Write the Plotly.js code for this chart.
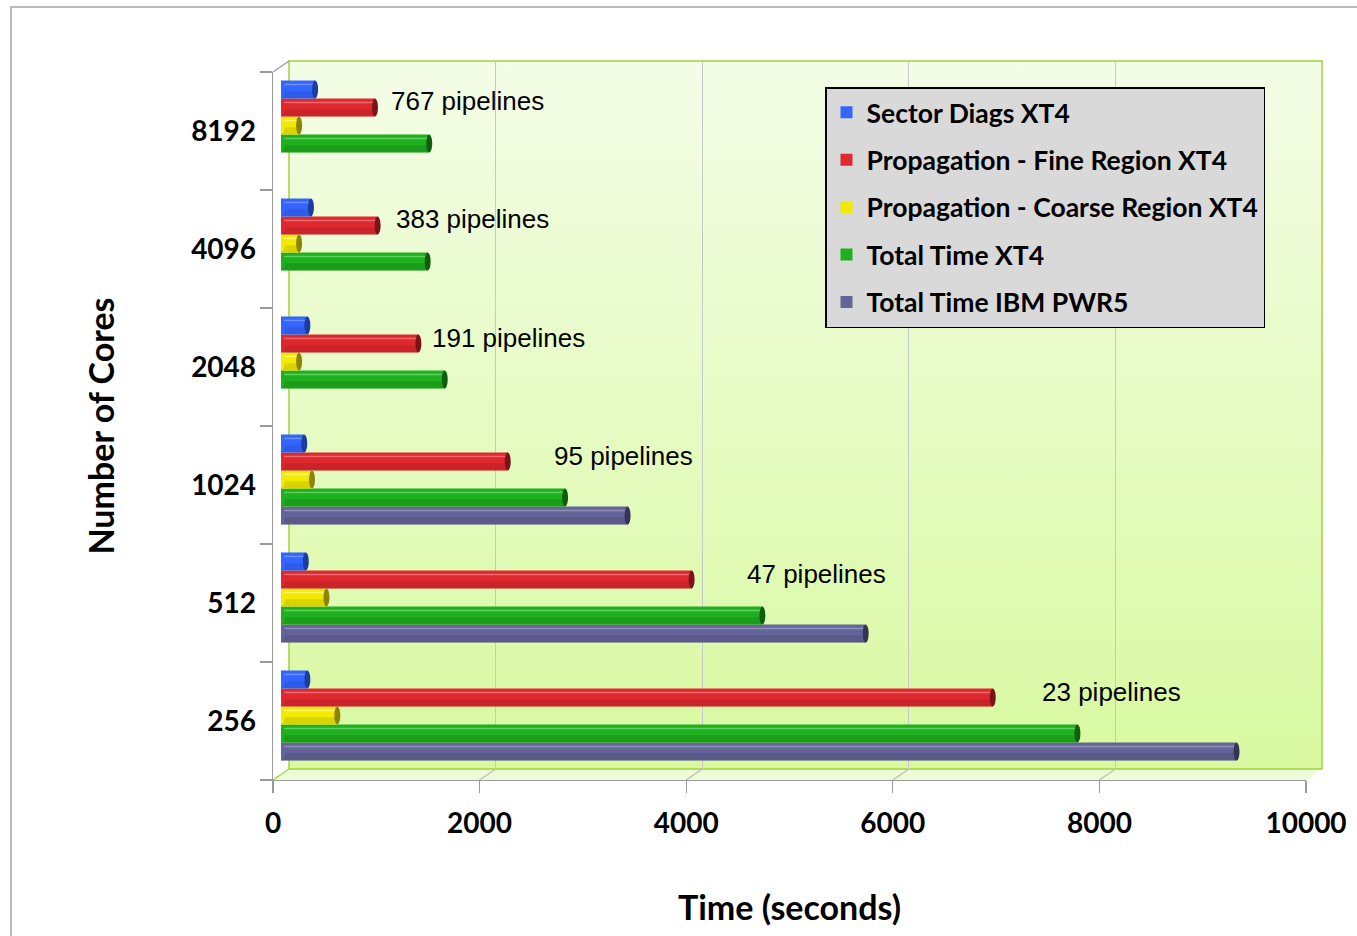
<!DOCTYPE html>
<html>
<head>
<meta charset="utf-8">
<script src="https://cdn.plot.ly/plotly-3.0.1.min.js"></script>
<style>
  html, body { margin: 0; padding: 0; background: #ffffff; }
  #chart { width: 1357px; height: 936px; }
</style>
</head>
<body>
<div id="chart"></div>
<script>
// ---- data -------------------------------------------------------------
const cores = ['256', '512', '1024', '2048', '4096', '8192'];

const sectorDiagsXT4   = [255, 240, 225, 255, 290, 330];
const fineRegionXT4    = [6890, 3975, 2195, 1330, 935, 910];
const coarseRegionXT4  = [545, 440, 300, 175, 175, 175];
const totalTimeXT4     = [7710, 4660, 2750, 1585, 1420, 1435];
const totalTimePWR5    = [9250, 5660, 3355, null, null, null];

const pipelines        = [23, 47, 95, 191, 383, 767];

const seriesNames = [
  'Sector Diags XT4',
  'Propagation - Fine Region XT4',
  'Propagation - Coarse Region XT4',
  'Total Time XT4',
  'Total Time IBM PWR5'
];
const seriesValues = [sectorDiagsXT4, fineRegionXT4, coarseRegionXT4, totalTimeXT4, totalTimePWR5];

// ---- styling ------------------------------------------------------------
const seriesColors = ['#3366ff', '#e0282f', '#f2ea00', '#1eb01e', '#646498'];
const capColors    = ['#1d3d9e', '#7a1418', '#8a8400', '#0f5e0f', '#34345a'];
const lightColors  = ['#7a9cff', '#f07a80', '#fffa8a', '#6fd86f', '#9a9ac4'];

const W = 1357, H = 936;
// front plane of the 3-D box (pixels) and depth offset of its back wall
const FX0 = 273, FX1 = 1306, FY0 = 72, FY1 = 780;
const DX = 16, DY = 11;
const PL = FX0, PR = FX1 + DX, PT = FY0 - DY, PB = FY1;
const PW = PR - PL, PH = PB - PT;
const px = x => (x - PL) / PW;
const py = y => (PB - y) / PH;

const X_MAX = 10000;
const BARGAP = 0.237;
const barW = (1 - BARGAP) / seriesNames.length;

const FONT = 'Lato, "Open Sans", sans-serif';
const labelFont = { family: FONT, size: 28, color: '#000000', weight: 'bold' };
const titleFont = { family: FONT, size: 34, color: '#000000', weight: 'bold' };

// ---- traces -------------------------------------------------------------
// drawn bottom-to-top inside each group, so the last series goes first
const traces = [];
for (let i = seriesNames.length - 1; i >= 0; i--) {
  traces.push({
    type: 'bar',
    orientation: 'h',
    name: seriesNames[i],
    y: cores,
    x: seriesValues[i],
    xaxis: 'x3',
    yaxis: 'y3',
    legendgroup: 'g' + i,
    legendrank: i + 1,
    marker: { color: seriesColors[i], line: { width: 0 } },
    hoverinfo: 'x+name'
  });
}
// empty traces so the wall and front-axis subplots exist
traces.push({
  type: 'scatter', mode: 'markers', x: [null], y: [null],
  xaxis: 'x', yaxis: 'y', showlegend: false, hoverinfo: 'skip'
});
traces.push({
  type: 'scatter', mode: 'markers', x: cores.map(() => null), y: cores,
  xaxis: 'x2', yaxis: 'y2', showlegend: false, hoverinfo: 'skip'
});

// ---- cylinder shading, end caps -----------------------------------------
const shapes = [];
seriesValues.forEach((vals, i) => {
  const slot = (seriesNames.length - 1 - i);              // 0 = bottom of group
  const centerOff = (slot - (seriesNames.length - 1) / 2) * barW;
  vals.forEach((v, c) => {
    if (v === null) return;
    const yc = c + centerOff;
    // darker lower half of the cylinder
    shapes.push({
      type: 'rect', xref: 'x3', yref: 'y3', layer: 'above',
      x0: 0, x1: v, y0: yc - barW / 2, y1: yc - barW * 0.1,
      fillcolor: capColors[i], opacity: 0.22, line: { width: 0 }
    });
    // highlight streak near the top
    shapes.push({
      type: 'line', xref: 'x3', yref: 'y3', layer: 'above',
      x0: 0, x1: v, y0: yc + barW * 0.28, y1: yc + barW * 0.28,
      line: { color: lightColors[i], width: 1.5 }, opacity: 0.8
    });
    // rounded start
    shapes.push({
      type: 'circle', xref: 'x3', yref: 'y3', layer: 'above',
      xsizemode: 'pixel', xanchor: 0, x0: -4, x1: 4,
      y0: yc - barW / 2, y1: yc + barW / 2,
      fillcolor: seriesColors[i], line: { width: 0 }
    });
    // dark end cap
    shapes.push({
      type: 'circle', xref: 'x3', yref: 'y3', layer: 'above',
      xsizemode: 'pixel', xanchor: v, x0: -3, x1: 3,
      y0: yc - barW / 2, y1: yc + barW / 2,
      fillcolor: capColors[i], line: { width: 0 }
    });
  });
});

// ---- box: outer frame, floor, wall edges --------------------------------
shapes.push({
  type: 'rect', xref: 'paper', yref: 'paper', layer: 'below',
  x0: px(11), x1: px(W + 40), y0: py(7), y1: py(H + 40),
  line: { color: '#a6a6a6', width: 1.5 }, fillcolor: 'rgba(0,0,0,0)'
});
shapes.push({
  type: 'path', xref: 'paper', yref: 'paper', layer: 'below',
  path: `M${px(FX0)},${py(FY1)} L${px(FX1)},${py(FY1)} L${px(FX1 + DX)},${py(FY1 - DY)} L${px(FX0 + DX)},${py(FY1 - DY)} Z`,
  fillcolor: '#eefbd8', line: { width: 0 }
});
shapes.push({
  type: 'rect', xref: 'x domain', yref: 'y domain', layer: 'below',
  x0: 0, x1: 1, y0: 0, y1: 1,
  line: { color: '#a3d13c', width: 1.5 }, fillcolor: 'rgba(0,0,0,0)'
});
// floor edges running back from each front tick
for (let t = 0; t <= X_MAX; t += 2000) {
  const edge = (t === 0 || t === X_MAX);
  shapes.push({
    type: 'line', xref: 'x2', yref: 'y2 domain', layer: 'below',
    xsizemode: 'pixel', xanchor: t, x0: 0, x1: DX,
    ysizemode: 'pixel', yanchor: 0, y0: 0, y1: DY,
    line: { color: edge ? '#a3d13c' : '#bdbdbd', width: 1.3 }
  });
}
// top corner of the side wall
shapes.push({
  type: 'line', xref: 'paper', yref: 'paper', layer: 'below',
  x0: px(FX0), y0: py(FY0), x1: px(FX0 + DX), y1: py(FY0 - DY),
  line: { color: '#9a9a9a', width: 1.3 }
});

// ---- pipeline labels ----------------------------------------------------
const labelX = [7348, 4492, 2623, 1442, 1094, 1045];
const annotations = pipelines.map((p, c) => ({
  xref: 'x3', yref: 'y3', x: labelX[c], y: c,
  yshift: 24, xanchor: 'left', yanchor: 'middle',
  text: p + ' pipelines', showarrow: false,
  font: { family: '"Liberation Sans", Arial, sans-serif', size: 26, color: '#000000' }
}));

// back wall gradient
const wallSvg = '<svg xmlns="http://www.w3.org/2000/svg" width="100" height="100" preserveAspectRatio="none">' +
  '<defs><linearGradient id="g" x1="0" y1="0" x2="0" y2="1">' +
  '<stop offset="0" stop-color="#f4fde7"/><stop offset="1" stop-color="#d8f9a0"/>' +
  '</linearGradient></defs><rect width="100" height="100" fill="url(#g)"/></svg>';

const layout = {
  width: W, height: H, autosize: false,
  margin: { l: PL, r: W - PR, t: PT, b: H - PB, pad: 0 },
  paper_bgcolor: '#ffffff',
  plot_bgcolor: 'rgba(0,0,0,0)',
  barmode: 'group', bargap: BARGAP, bargroupgap: 0,
  showlegend: true,
  legend: {
    x: px(825), y: py(87), xanchor: 'left', yanchor: 'top',
    bgcolor: '#d9d9d9', bordercolor: '#000000', borderwidth: 1.5,
    traceorder: 'grouped', tracegroupgap: 10,
    font: { family: FONT, size: 26.5, color: '#000000', weight: 'bold' }
  },
  // back wall
  xaxis: {
    domain: [DX / PW, 1], anchor: 'y', range: [0, X_MAX],
    tickvals: [2000, 4000, 6000, 8000], showgrid: true, gridcolor: '#c8c8c8', gridwidth: 1.3,
    showticklabels: false, ticks: '', zeroline: false, showline: false, fixedrange: true
  },
  yaxis: {
    domain: [DY / PH, 1], anchor: 'x', range: [0, 1],
    showgrid: false, showticklabels: false, ticks: '', zeroline: false, showline: false, fixedrange: true
  },
  // front plane with the axes
  xaxis2: {
    domain: [0, (FX1 - PL) / PW], anchor: 'y2', range: [0, X_MAX],
    tick0: 0, dtick: 2000, tickformat: 'd', ticks: 'outside', ticklen: 12, tickwidth: 1.3, tickcolor: '#9a9a9a',
    ticklabelstandoff: 6,
    showline: true, linecolor: '#9a9a9a', linewidth: 1.3,
    showgrid: false, zeroline: false, tickfont: labelFont, fixedrange: true,
    title: { text: 'Time (seconds)', standoff: 58, font: titleFont }
  },
  yaxis2: {
    domain: [0, (FY1 - FY0) / PH], anchor: 'x2', type: 'category',
    categoryorder: 'array', categoryarray: cores, range: [-0.5, cores.length - 0.5],
    tickson: 'boundaries', ticks: 'outside', ticklen: 12, tickwidth: 1.3, tickcolor: '#9a9a9a',
    ticklabelstandoff: 10,
    showline: true, linecolor: '#9a9a9a', linewidth: 1.3,
    showgrid: false, zeroline: false, tickfont: labelFont, fixedrange: true,
    title: { text: 'Number of Cores', standoff: 66, font: titleFont }
  },
  // mid-depth plane holding the cylinders
  xaxis3: {
    domain: [DX / 2 / PW, (FX1 - PL + DX / 2) / PW], anchor: 'y3', range: [0, X_MAX],
    visible: false, fixedrange: true
  },
  yaxis3: {
    domain: [DY / 2 / PH, (FY1 - FY0 + DY / 2) / PH], anchor: 'x3', type: 'category',
    categoryorder: 'array', categoryarray: cores, range: [-0.5, cores.length - 0.5],
    visible: false, fixedrange: true
  },
  images: [{
    source: 'data:image/svg+xml;charset=utf-8,' + encodeURIComponent(wallSvg),
    xref: 'paper', yref: 'paper', x: px(FX0 + DX), y: py(FY0 - DY),
    sizex: (FX1 - FX0) / PW, sizey: (FY1 - FY0) / PH,
    xanchor: 'left', yanchor: 'top', sizing: 'stretch', layer: 'below'
  }],
  shapes: shapes,
  annotations: annotations
};

Plotly.newPlot('chart', traces, layout, { displayModeBar: false, staticPlot: true });
</script>
</body>
</html>
